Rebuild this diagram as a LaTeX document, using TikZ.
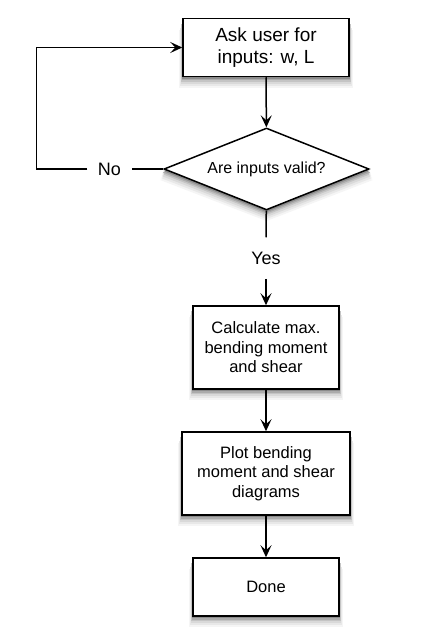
\documentclass[tikz,border=0pt]{standalone}
\usepackage{fontspec}
\setmainfont{Liberation Sans}
\usetikzlibrary{shapes.geometric,arrows.meta}
\definecolor{sh1}{gray}{0.96}
\definecolor{sh2}{gray}{0.91}
\definecolor{sh3}{gray}{0.85}
\definecolor{sh4}{gray}{0.77}
\definecolor{sh5}{gray}{0.67}
\definecolor{sh6}{gray}{0.55}
\tikzset{
  shadowA/.style={fill=sh1,draw=none},
  shadowB/.style={fill=sh2,draw=none},
  shadowC/.style={fill=sh3,draw=none},
  shadowD/.style={fill=sh4,draw=none},
  shadowE/.style={fill=sh5,draw=none},
  shadowF/.style={fill=sh6,draw=none}
}
\newcommand{\boxshadow}[4]{%
  \path[shadowA] ({#1-#3/2-3.8},{#2-#4/2+11}) rectangle ({#1+#3/2+3.8},{#2+#4/2+11});
  \path[shadowB] ({#1-#3/2-3.1},{#2-#4/2+9}) rectangle ({#1+#3/2+3.1},{#2+#4/2+9});
  \path[shadowC] ({#1-#3/2-2.4},{#2-#4/2+7}) rectangle ({#1+#3/2+2.4},{#2+#4/2+7});
  \path[shadowD] ({#1-#3/2-1.7},{#2-#4/2+5}) rectangle ({#1+#3/2+1.7},{#2+#4/2+5});
  \path[shadowE] ({#1-#3/2-1.2},{#2-#4/2+3.5}) rectangle ({#1+#3/2+1.2},{#2+#4/2+3.5});
  \path[shadowF] ({#1-#3/2-0.7},{#2-#4/2+2}) rectangle ({#1+#3/2+0.7},{#2+#4/2+2});
}
\newcommand{\diashadow}[1]{%
  \path[#1] (266.5,128+\dd) -- (369+0.35*\dd,169+\dd) -- (266.5,210+\dd) -- (164-0.35*\dd,169+\dd) -- cycle;
}
\begin{document}
\begin{tikzpicture}[x=1pt,y=-1pt,
  line width=1.5pt,
  procbox/.style={draw,fill=white,rectangle,inner sep=0pt,align=center,font=\fontsize{16.5}{19.5}\selectfont},
  decbox/.style={draw,fill=white,diamond,aspect=2.5,inner sep=0pt,font=\fontsize{16}{19}\selectfont},
  lbl/.style={inner sep=0pt,font=\fontsize{18}{21}\selectfont},
  arr/.style={-{Stealth[length=12pt,width=11pt,inset=5pt]}}
]
\path[use as bounding box,fill=white] (0,0) rectangle (431,637);
\boxshadow{266}{47.5}{166}{58}
\boxshadow{266}{347.5}{146}{83}
\boxshadow{266}{473.5}{168}{83}
\boxshadow{266}{587}{146}{58}
\def\dd{11}\diashadow{shadowA}
\def\dd{9}\diashadow{shadowB}
\def\dd{7}\diashadow{shadowC}
\def\dd{5}\diashadow{shadowD}
\def\dd{3.5}\diashadow{shadowE}
\def\dd{2}\diashadow{shadowF}
\node[procbox,minimum width=166pt,minimum height=58pt,font=\fontsize{19}{22}\selectfont] (ask) at (266,47.5) {Ask user for\\inputs: w, L};
\node[decbox,minimum width=205pt,minimum height=82pt] (valid) at (266.5,169) {Are inputs valid?};
\node[lbl,minimum height=40pt] (yes) at (266,258) {Yes};
\node[lbl,minimum width=43pt] (no) at (109.5,169) {No};
\coordinate (loop) at (36.5,169);
\node[procbox,minimum width=146pt,minimum height=83pt] (calc) at (266,347.5) {Calculate max.\\bending moment\\and shear};
\node[procbox,minimum width=168pt,minimum height=83pt] (plot) at (266,473.5) {Plot bending\\moment and shear\\diagrams};
\node[procbox,minimum width=146pt,minimum height=58pt] (done) at (266,587) {Done};
\draw[arr] (ask) -- (valid);
\draw (valid) -- (yes);
\draw[arr] (yes) -- (calc);
\draw (valid.west) -- (no.east);
\draw[arr] (no.west) -- (loop) |- (ask.west);
\draw[arr] (calc) -- (plot);
\draw[arr] (plot) -- (done);
\end{tikzpicture}
\end{document}
